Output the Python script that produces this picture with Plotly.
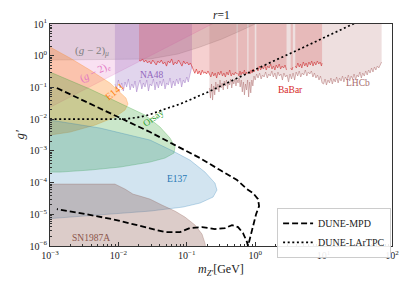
import plotly.graph_objects as go

# ---------------- data (mass in GeV, coupling g') ----------------
G_TOP = 30.0  # fill level above the visible range

gm2mu_m = [8e-4, 1e-3, 0.029, 0.074, 0.156, 0.327, 0.60, 1.0, 1.15]
gm2mu_g = [0.73, 0.73, 0.79, 1.13, 1.88, 3.37, 6.0, 10.0, 13.0]

gm2e_m = [8e-4, 1e-3, 1e-2, 0.1, 0.3]
gm2e_g = [0.0184, 0.0236, 0.304, 3.92, 13.2]

na48_m = [8.9e-3, 9.4e-3, 1.0e-2, 1.06e-2, 1.12e-2, 1.18e-2, 1.25e-2, 1.32e-2, 1.4e-2, 1.48e-2,
          1.57e-2, 1.66e-2, 1.75e-2, 1.85e-2, 1.96e-2, 2.07e-2, 2.2e-2, 2.32e-2, 2.45e-2, 2.6e-2,
          2.75e-2, 2.9e-2, 3.07e-2, 3.25e-2, 3.43e-2, 3.63e-2, 3.84e-2, 4.06e-2, 4.3e-2, 4.55e-2,
          4.8e-2, 5.08e-2, 5.37e-2, 5.68e-2, 6.0e-2, 6.35e-2, 6.72e-2, 7.1e-2, 7.5e-2, 7.96e-2,
          8.4e-2, 8.9e-2, 9.4e-2, 1.0e-1, 1.05e-1, 1.11e-1, 1.15e-1, 1.19e-1]
na48_g = [0.128, 0.089, 0.171, 0.096, 0.138, 0.077, 0.148, 0.103, 0.184, 0.083,
          0.128, 0.096, 0.159, 0.072, 0.119, 0.171, 0.089, 0.138, 0.103, 0.171,
          0.077, 0.128, 0.111, 0.184, 0.083, 0.148, 0.096, 0.159, 0.111, 0.184,
          0.089, 0.138, 0.119, 0.198, 0.096, 0.159, 0.111, 0.184, 0.128, 0.198,
          0.103, 0.171, 0.138, 0.213, 0.148, 0.229, 0.306, 0.473]

e141_m = [8e-4, 1e-3, 1.96e-3, 3.84e-3, 7.53e-3, 0.01054, 0.0129, 0.0138, 0.0125, 8.9e-3,
          4.55e-3, 1.96e-3, 1e-3, 8e-4]
e141_g = [1.88, 1.88, 0.846, 0.354, 0.138, 0.0716, 0.0463, 0.0299, 0.0194, 0.0116,
          6.5e-3, 3.9e-3, 3.15e-3, 3.15e-3]

orsay_m = [8e-4, 1e-3, 3.84e-3, 0.01054, 0.0245, 0.0406, 0.0568, 0.0672, 0.065, 0.048,
           0.029, 0.01054, 3.84e-3, 1.4e-3, 1e-3, 8e-4]
orsay_g = [0.306, 0.306, 0.0891, 0.0322, 0.01345, 5.64e-3, 2.54e-3, 1.32e-3, 8.53e-4, 5.93e-4,
           4.43e-4, 3.08e-4, 2.48e-4, 2.14e-4, 2.14e-4, 2.14e-4]

e137_m = [8e-4, 1e-3, 5.38e-3, 0.029, 0.0628, 0.111, 0.1845, 0.258, 0.276, 0.242,
          0.156, 0.0879, 0.029, 5.38e-3, 1.106e-3, 1e-3, 8e-4]
e137_g = [9.37e-3, 9.37e-3, 5.24e-3, 2.19e-3, 9.86e-4, 5.13e-4, 2.14e-4, 9.6e-5, 5.8e-5, 3.49e-5,
          2.26e-5, 1.69e-5, 1.26e-5, 9.44e-6, 7.06e-6, 7.06e-6, 7.06e-6]

sn_m = [8e-4, 1e-3, 8.9e-3, 0.0125, 0.0163, 0.0207, 0.029, 0.0434, 0.0672, 0.0941,
        0.132, 0.167, 0.1845, 0.191, 0.191, 8e-4]
sn_g = [8.97e-5, 8.97e-5, 8.97e-5, 6.24e-5, 4.34e-5, 3.75e-5, 3.01e-5, 1.95e-5, 1.26e-5, 8.16e-6,
        4.56e-6, 2.37e-6, 1.23e-6, 7.4e-7, 1e-7, 1e-7]

# BaBar lower edge (None = vetoed mass window)
babar_m = [0.020, 0.0212, 0.0225, 0.0238, 0.0252, 0.0267, 0.0283, 0.030, 0.0318, 0.0337,
           0.0357, 0.0378, 0.040, 0.0424, 0.045, 0.0476, 0.0505, 0.0535, 0.0567, 0.060,
           0.0636, 0.0674, 0.0714, 0.0757, 0.080, 0.085, 0.090, 0.0953, 0.101, 0.107,
           0.113, 0.119,
           0.125, 0.131, 0.138, 0.145, 0.152, 0.16, 0.168, 0.176, 0.185, 0.194, 0.204,
           0.214, 0.225, 0.236, 0.248, 0.26, 0.273, 0.287, 0.301, 0.316, 0.332,
           0.349, 0.366, 0.385, 0.404, 0.424, 0.445, 0.467, 0.49, 0.515, 0.535,
           0.545, 0.555, 0.58, 0.60, 0.62, 0.645, 0.67, 0.695, 0.72, 0.745, 0.765,
           0.78, 0.80, 0.84, 0.87, 0.90, 0.93, 0.96, 0.985,
           1.01, 1.04, 1.1, 1.15, 1.2, 1.26, 1.32, 1.38, 1.45, 1.52, 1.6, 1.68, 1.76,
           1.85, 1.94, 2.03, 2.13, 2.24, 2.35, 2.47, 2.6, 2.73, 2.87,
           3.1, 3.3, 3.45, 3.55,
           3.69, 3.85, 4.0, 4.2, 4.4, 4.6, 4.8, 5.05, 5.3, 5.55, 5.8, 6.1, 6.4, 6.7,
           7.0, 7.35, 7.7, 8.1, 8.5, 8.9, 9.3, 9.5]
babar_g = [0.73, 0.68, 0.79, 0.63, 0.73, 0.59, 0.68, 0.55, 0.73, 0.63,
           0.51, 0.68, 0.59, 0.73, 0.55, 0.63, 0.47, 0.68, 0.59, 0.79,
           0.51, 0.63, 0.55, 0.73, 0.59, 0.47, 0.68, 0.55, 0.63, 0.51,
           0.59, 0.47,
           0.35, 0.28, 0.38, 0.265, 0.33, 0.246, 0.35, 0.28, 0.31, 0.265, 0.33,
           0.265, 0.213, 0.306, 0.229, 0.284, 0.198, 0.306, 0.246, 0.329, 0.229,
           0.284, 0.213, 0.306, 0.246, 0.354, 0.229, 0.284, 0.246, 0.306, 0.265,
           None, 0.284, 0.229, 0.329, 0.246, 0.306, 0.265, 0.354, 0.246, 0.306, 0.265,
           None, 0.329, 0.265, 0.354, 0.284, 0.380, 0.306, 0.354,
           None, 0.409, 0.329, 0.473, 0.354, 0.440, 0.380, 0.509, 0.354, 0.473, 0.409, 0.547, 0.380,
           0.473, 0.354, 0.509, 0.409, 0.547, 0.380, 0.473, 0.409, 0.509, 0.354,
           None, 0.409, 0.354, 0.440,
           None, 0.473, 0.409, 0.589, 0.440, 0.547, 0.409, 0.633, 0.473, 0.589, 0.440, 0.633, 0.509, 0.680,
           0.473, 0.633, 0.509, 0.680, 0.547, 0.633, 0.473, 0.589]

lhcb_m = [0.214, 0.222, 0.23, 0.238, 0.247, 0.256, 0.265, 0.275, 0.285, 0.295,
          0.306, 0.317, 0.329, 0.341, 0.353, 0.366, 0.38, 0.394, 0.408, 0.423,
          0.438, 0.454, 0.47, 0.487, 0.505, 0.523, 0.542, 0.562, 0.582, 0.603,
          0.625, 0.648, 0.672, 0.696, 0.721, 0.747, 0.774, 0.802, 0.831, 0.861,
          0.892, 0.924,
          0.96, 1.0, 1.05, 1.1, 1.16, 1.22, 1.28, 1.35, 1.42, 1.5,
          1.58, 1.66, 1.75, 1.84, 1.94, 2.04, 2.15, 2.26, 2.38, 2.5,
          2.63, 2.77, 2.92, 3.07, 3.23, 3.4, 3.58, 3.77, 3.97, 4.18,
          4.4, 4.63, 4.87, 5.13, 5.4, 5.68, 5.98, 6.3, 6.63, 6.98,
          7.35, 7.73, 8.14, 8.57, 9.0, 9.5,
          10.0, 10.5, 11.0, 11.6, 12.2, 12.8, 13.4, 14.1, 14.8, 15.5,
          16.3, 17.1, 18.0, 18.9, 19.8, 20.8, 21.9, 23.0, 24.1, 25.3,
          26.6, 27.9, 29.3, 30.8, 32.3, 33.9, 35.6, 37.4, 39.3, 41.3,
          43.4, 45.5, 47.8, 50.2, 52.7, 55.4, 58.1, 61.0, 64.1, 67.3, 70.5]
lhcb_g = [0.096, 0.046, 0.128, 0.040, 0.111, 0.058, 0.148, 0.083, 0.128, 0.072,
          0.171, 0.096, 0.138, 0.083, 0.159, 0.111, 0.171, 0.089, 0.148, 0.119,
          0.184, 0.096, 0.159, 0.128, 0.184, 0.111, 0.171, 0.138, 0.198, 0.103,
          0.171, 0.072, 0.148, 0.058, 0.128, 0.083, 0.171, 0.050, 0.148, 0.067,
          0.171, 0.111,
          0.229, 0.171, 0.265, 0.198, 0.284, 0.184, 0.246, 0.213, 0.306, 0.198,
          0.265, 0.229, 0.329, 0.213, 0.284, 0.184, 0.306, 0.229, 0.265, 0.171,
          0.284, 0.213, 0.246, 0.148, 0.265, 0.184, 0.284, 0.171, 0.306, 0.229,
          0.329, 0.213, 0.284, 0.246, 0.354, 0.229, 0.306, 0.265, 0.329, 0.213,
          0.284, 0.198, 0.246, 0.171, 0.229, 0.138,
          0.128, 0.184, 0.119, 0.171, 0.138, 0.198, 0.128, 0.184, 0.148, 0.213,
          0.138, 0.198, 0.159, 0.229, 0.148, 0.213, 0.171, 0.246, 0.159, 0.229,
          0.184, 0.265, 0.171, 0.246, 0.213, 0.306, 0.198, 0.284, 0.229, 0.329,
          0.246, 0.354, 0.284, 0.409, 0.306, 0.440, 0.354, 0.473, 0.409, 0.547, 0.633]

mpd_m = [1.26e-3, 5.38e-3, 0.029, 0.0672, 0.156, 0.306, 0.542, 0.759, 0.929, 1.10,
         1.14, 1.03, 0.929, 0.84, 0.785, 0.759, 0.664, 0.561, 0.458, 0.362,
         0.258, 0.167, 0.111, 0.0796, 0.048, 0.0245, 8.05e-3, 2.75e-3, 1.26e-3]
mpd_g = [0.0957, 0.0224, 3.92e-3, 1.52e-3, 5.93e-4, 2.48e-4, 1.20e-4, 6.24e-5, 4.67e-5, 3.02e-5,
         1.81e-5, 1.01e-5, 4.25e-6, 1.91e-6, 9.9e-7, 1.33e-6, 2.55e-6, 3.95e-6, 4.56e-6, 3.67e-6,
         3.41e-6, 3.95e-6, 3.67e-6, 2.74e-6, 2.74e-6, 3.95e-6, 7.06e-6, 1.09e-5, 1.46e-5]

lar_m = [1e-3, 7.53e-3, 0.0125, 0.0207, 0.029, 0.048, 0.0796, 0.204, 0.473, 1.49, 4.52, 26.0, 47.7]
lar_g = [0.01, 0.01, 0.0101, 0.0116, 0.0140, 0.0209, 0.0299, 0.0716, 0.171, 0.547, 1.63, 10.0, 17.9]

x_tickvals = [1e-3, 1e-2, 1e-1, 1e0, 1e1, 1e2]
x_ticktext = ["10<sup>−3</sup>", "10<sup>−2</sup>", "10<sup>−1</sup>", "10<sup>0</sup>",
              "10<sup>1</sup>", "10<sup>2</sup>"]
y_tickvals = [1e-6, 1e-5, 1e-4, 1e-3, 1e-2, 1e-1, 1e0, 1e1]
y_ticktext = ["10<sup>−6</sup>", "10<sup>−5</sup>", "10<sup>−4</sup>", "10<sup>−3</sup>",
              "10<sup>−2</sup>", "10<sup>−1</sup>", "10<sup>0</sup>", "10<sup>1</sup>"]

# ---------------- styles ----------------
C = {
    "gray": (127, 127, 127), "pink": (227, 119, 194), "purple": (148, 103, 189),
    "orange": (255, 127, 14), "green": (44, 160, 44), "blue": (31, 119, 180),
    "brown": (140, 86, 75), "red": (214, 39, 40), "rosy": (176, 110, 110),
}


def rgba(name, a):
    r, g, b = C[name]
    return f"rgba({r},{g},{b},{a})"


fig = go.Figure()


def add_poly(m, g, col, a=0.3, ea=0.35):
    fig.add_trace(go.Scatter(x=m, y=g, mode="lines", fill="toself",
                             fillcolor=rgba(col, a), line=dict(color=rgba(col, ea), width=0.8),
                             hoverinfo="skip", showlegend=False))


def add_to_top(m, g, col, a=0.25, ea=0.6, ew=0.7):
    segs, cur = [], []
    for mi, gi in zip(m, g):
        if gi is None:
            if cur:
                segs.append(cur)
            cur = []
        else:
            cur.append((mi, gi))
    if cur:
        segs.append(cur)
    for seg in segs:
        xs = [p[0] for p in seg]
        ys = [p[1] for p in seg]
        fig.add_trace(go.Scatter(x=xs + [xs[-1], xs[0], xs[0]], y=ys + [G_TOP, G_TOP, ys[0]],
                                 mode="lines", fill="toself", fillcolor=rgba(col, a),
                                 line=dict(width=0), hoverinfo="skip", showlegend=False))
        fig.add_trace(go.Scatter(x=xs, y=ys, mode="lines",
                                 line=dict(color=rgba(col, ea), width=ew),
                                 hoverinfo="skip", showlegend=False))


add_to_top(gm2mu_m, gm2mu_g, "gray", a=0.22, ea=0.35)
add_to_top(gm2e_m, gm2e_g, "pink", a=0.22, ea=0.35)
add_to_top(na48_m, na48_g, "purple", a=0.28, ea=0.6)
add_poly(e141_m, e141_g, "orange", a=0.3)
add_poly(orsay_m, orsay_g, "green", a=0.25)
add_poly(e137_m, e137_g, "blue", a=0.2)
add_poly(sn_m, sn_g, "brown", a=0.3)
add_to_top(babar_m, babar_g, "red", a=0.22, ea=0.75, ew=0.8)
add_to_top(lhcb_m, lhcb_g, "rosy", a=0.22, ea=0.7, ew=0.7)

fig.add_trace(go.Scatter(x=mpd_m, y=mpd_g, mode="lines", name="DUNE-MPD",
                         line=dict(color="black", width=1.8, dash="6px,3px")))
fig.add_trace(go.Scatter(x=lar_m, y=lar_g, mode="lines", name="DUNE-LArTPC",
                         line=dict(color="black", width=1.7, dash="2px,2.6px")))

# ---------------- labels ----------------
FONT = "Liberation Serif"
labels = [
    ("(<i>g</i> − 2)<sub><i>μ</i></sub>", -2.39, 0.15, C["gray"], 0, 11),
    ("(<i>g</i> − 2)<sub><i>e</i></sub>", -2.33, -0.52, C["pink"], -27, 10.5),
    ("NA48", -1.51, -0.61, C["purple"], 0, 9.5),
    ("E141", -2.06, -1.13, C["orange"], -40, 10),
    ("Orsay", -1.49, -1.96, C["green"], -35, 9.5),
    ("E137", -1.14, -3.89, C["blue"], 0, 9.5),
    ("SN1987A", -2.40, -5.75, C["brown"], 0, 9.5),
    ("BaBar", 0.51, -1.08, C["red"], 0, 9.5),
    ("LHCb", 1.50, -0.86, (168, 108, 108), 0, 9.5),
]
for txt, lx, ly, col, ang, fs in labels:
    fig.add_annotation(x=lx, y=ly, xref="x", yref="y", text=txt, showarrow=False,
                       xanchor="center", yanchor="middle",
                       textangle=ang, font=dict(family=FONT, size=fs, color=f"rgb{col}"))

fig.add_annotation(x=0.5, y=1.04, xref="paper", yref="paper", xanchor="center",
                   yanchor="middle", text="<i>r</i>=1",
                   showarrow=False, font=dict(family=FONT, size=11.5, color="#222"))
fig.add_annotation(x=0.5, y=-0.11, xref="paper", yref="paper", xanchor="center",
                   yanchor="middle", text="<i>m</i><sub><i>Z′</i></sub>[GeV]", showarrow=False,
                   font=dict(family=FONT, size=12, color="#222"))
fig.add_annotation(x=-0.092, y=0.5, xref="paper", yref="paper", xanchor="center",
                   yanchor="middle", text="<i>g′</i>",
                   textangle=-90, showarrow=False, font=dict(family=FONT, size=13, color="#222"))

minor_x = [k * 10.0 ** e for e in range(-3, 2) for k in range(2, 10)]
minor_y = [k * 10.0 ** e for e in range(-6, 1) for k in range(2, 10)]

axis_common = dict(type="log", showline=True, linecolor="#333", linewidth=1, mirror=True,
                   ticks="inside", ticklen=4, tickwidth=0.8, tickcolor="#333",
                   showgrid=False, zeroline=False, automargin=False,
                   tickfont=dict(family=FONT, size=10, color="#222"))
fig.update_xaxes(range=[-3, 2], tickvals=x_tickvals, ticktext=x_ticktext,
                 minor=dict(ticks="inside", ticklen=2, tickwidth=0.6, tickcolor="#333",
                            tickvals=minor_x), **axis_common)
fig.update_yaxes(range=[-6, 1], tickvals=y_tickvals, ticktext=y_ticktext,
                 minor=dict(ticks="inside", ticklen=2, tickwidth=0.6, tickcolor="#333",
                            tickvals=minor_y), **axis_common)

# the page body adds an 8px offset; the figure is sized so the plot area lands
# at the reference position inside the 407x286 window
fig.update_layout(
    width=399, height=278, margin=dict(l=42, r=15, t=16, b=40, autoexpand=False),
    plot_bgcolor="white", paper_bgcolor="white",
    font=dict(family=FONT, size=10, color="#222"),
    legend=dict(x=0.664, y=0.172, xanchor="left", yanchor="top",
                bgcolor="rgba(255,255,255,0.9)", bordercolor="#cccccc", borderwidth=1,
                font=dict(family=FONT, size=10, color="#222"), tracegroupgap=0,
                itemwidth=30),
)

fig.write_html("out.html")
